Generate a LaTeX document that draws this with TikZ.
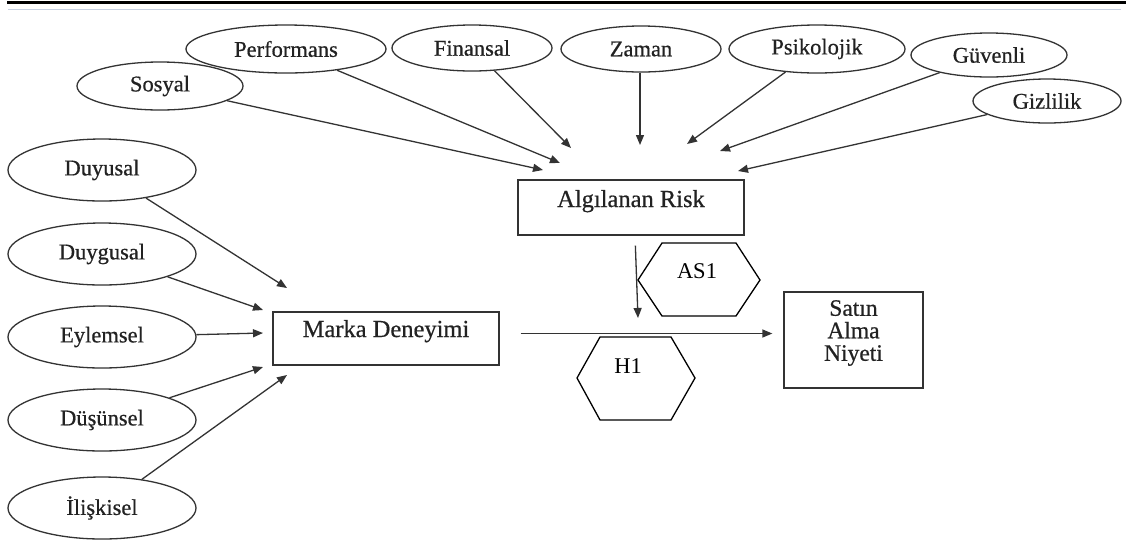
\documentclass[tikz,border=0pt]{standalone}
\usepackage{fontspec}
\setmainfont{Liberation Serif}
\newfontfamily\blurfont[FakeBold=0.6]{Liberation Serif}
\usetikzlibrary{shapes.geometric,arrows.meta}
\definecolor{ln}{HTML}{333333}
\definecolor{txt}{HTML}{222222}
\definecolor{rulecol}{HTML}{C6D0E2}
\begin{document}
\begin{tikzpicture}[x=1pt,y=-1pt,
  oval/.style={ellipse,draw=ln,line width=1.3pt,inner sep=0pt,text=txt,
    font=\blurfont\fontsize{22.5}{24}\selectfont},
  box/.style={rectangle,draw=ln,line width=1.3pt,inner sep=0pt},
  boxtext/.style={text=txt,inner sep=0pt,align=center,
    font=\blurfont\fontsize{24.5}{22}\selectfont},
  arr/.style={draw=ln,line width=1.3pt,-{Triangle[length=10pt,width=8pt]}},
  hexline/.style={draw=black,line width=1.3pt,line join=miter},
  hextext/.style={inner sep=0pt,font=\fontsize{22.5}{24}\selectfont}]
\useasboundingbox (0,0) rectangle (1126,542);
\fill[white] (0,0) rectangle (1126,542);
% top rules
\draw[line width=3pt,black] (7,2.5) -- (1126,2.5);
\draw[line width=1.5pt,rulecol] (8,9.5) -- (1121,9.5);

% risk ellipses
\node[oval,minimum width=166pt,minimum height=48pt] (sosyal) at (160,86) {Sosyal};
\node[oval,minimum width=200pt,minimum height=48pt] (perf) at (286,49) {Performans};
\node[oval,minimum width=160pt,minimum height=46pt] (finansal) at (472,48) {Finansal};
\node[oval,minimum width=160pt,minimum height=46pt] (zaman) at (641,49) {Zaman};
\node[oval,minimum width=176pt,minimum height=48pt] (psiko) at (817,49) {Psikolojik};
\node[oval,minimum width=156pt,minimum height=44pt] (guvenli) at (989,55) {Güvenli};
\node[oval,minimum width=148pt,minimum height=44pt] (gizlilik) at (1047,101) {Gizlilik};

% experience ellipses
\node[oval,minimum width=188pt,minimum height=62pt] (duyusal) at (102,170) {Duyusal};
\node[oval,minimum width=188pt,minimum height=62pt] (duygusal) at (102,254) {Duygusal};
\node[oval,minimum width=188pt,minimum height=62pt] (eylemsel) at (102,337) {Eylemsel};
\node[oval,minimum width=188pt,minimum height=62pt] (dusunsel) at (102,420) {Düşünsel};
\node[oval,minimum width=188pt,minimum height=62pt] (iliskisel) at (102,508) {İlişkisel};

% boxes
\node[box,minimum width=226pt,minimum height=55pt] (risk) at (631,207.5) {};
\node[boxtext,anchor=base] (riskt) at (631,207) {Algılanan Risk};
\node[box,minimum width=226pt,minimum height=53pt] (md) at (386,338.5) {};
\node[boxtext,anchor=base] (mdt) at (386,337) {Marka Deneyimi};
\node[box,minimum width=139pt,minimum height=96pt] (satin) at (853.5,340) {};
\node[boxtext,font=\blurfont\fontsize{23.5}{22.5}\selectfont] (satint) at (853.5,333) {Satın\\Alma\\Niyeti};

% hexagons
\draw[hexline] (638,280) -- (662,243) -- (736,243) -- (760,280) -- (736,316) -- (662,316) -- cycle;
\node[hextext,anchor=base] (as1) at (697,278) {AS1};
\draw[hexline] (577,378) -- (600,337) -- (671,337) -- (695,378) -- (671,420) -- (600,420) -- cycle;
\node[hextext,anchor=base] (h1) at (628,373) {H1};

% arrow targets
\coordinate (tSos) at (543,170);
\coordinate (tPerf) at (560,163);
\coordinate (tFin) at (571,148);
\coordinate (tZam) at (640,145);
\coordinate (tPsi) at (687,144);
\coordinate (tGuv) at (720,151);
\coordinate (tGiz) at (738,171);
\coordinate (tDuyu) at (287,288);
\coordinate (tDuyg) at (263,310);
\coordinate (tEyl) at (263,333);
\coordinate (tDus) at (263,367);
\coordinate (tIli) at (287,375);
\coordinate (tRisk) at (638,318);

\draw[arr] (sosyal) -- (tSos);
\draw[arr] (perf) -- (tPerf);
\draw[arr] (finansal) -- (tFin);
\draw[arr] (zaman.south -| tZam) -- (tZam);
\draw[arr] (psiko) -- (tPsi);
\draw[arr] (guvenli) -- (tGuv);
\draw[arr] (gizlilik) -- (tGiz);

\draw[arr] (duyusal) -- (tDuyu);
\draw[arr] (duygusal) -- (tDuyg);
\draw[arr] (eylemsel) -- (tEyl);
\draw[arr] (dusunsel) -- (tDus);
\draw[arr] (iliskisel) -- (tIli);

\draw[arr,shorten <=10pt] ([xshift=4pt]risk.south) -- (tRisk);
\draw[arr,shorten <=21pt,shorten >=11pt] ([yshift=5pt]md.east) -- ([yshift=5pt]md.east -| satin.west);
\end{tikzpicture}
\end{document}
